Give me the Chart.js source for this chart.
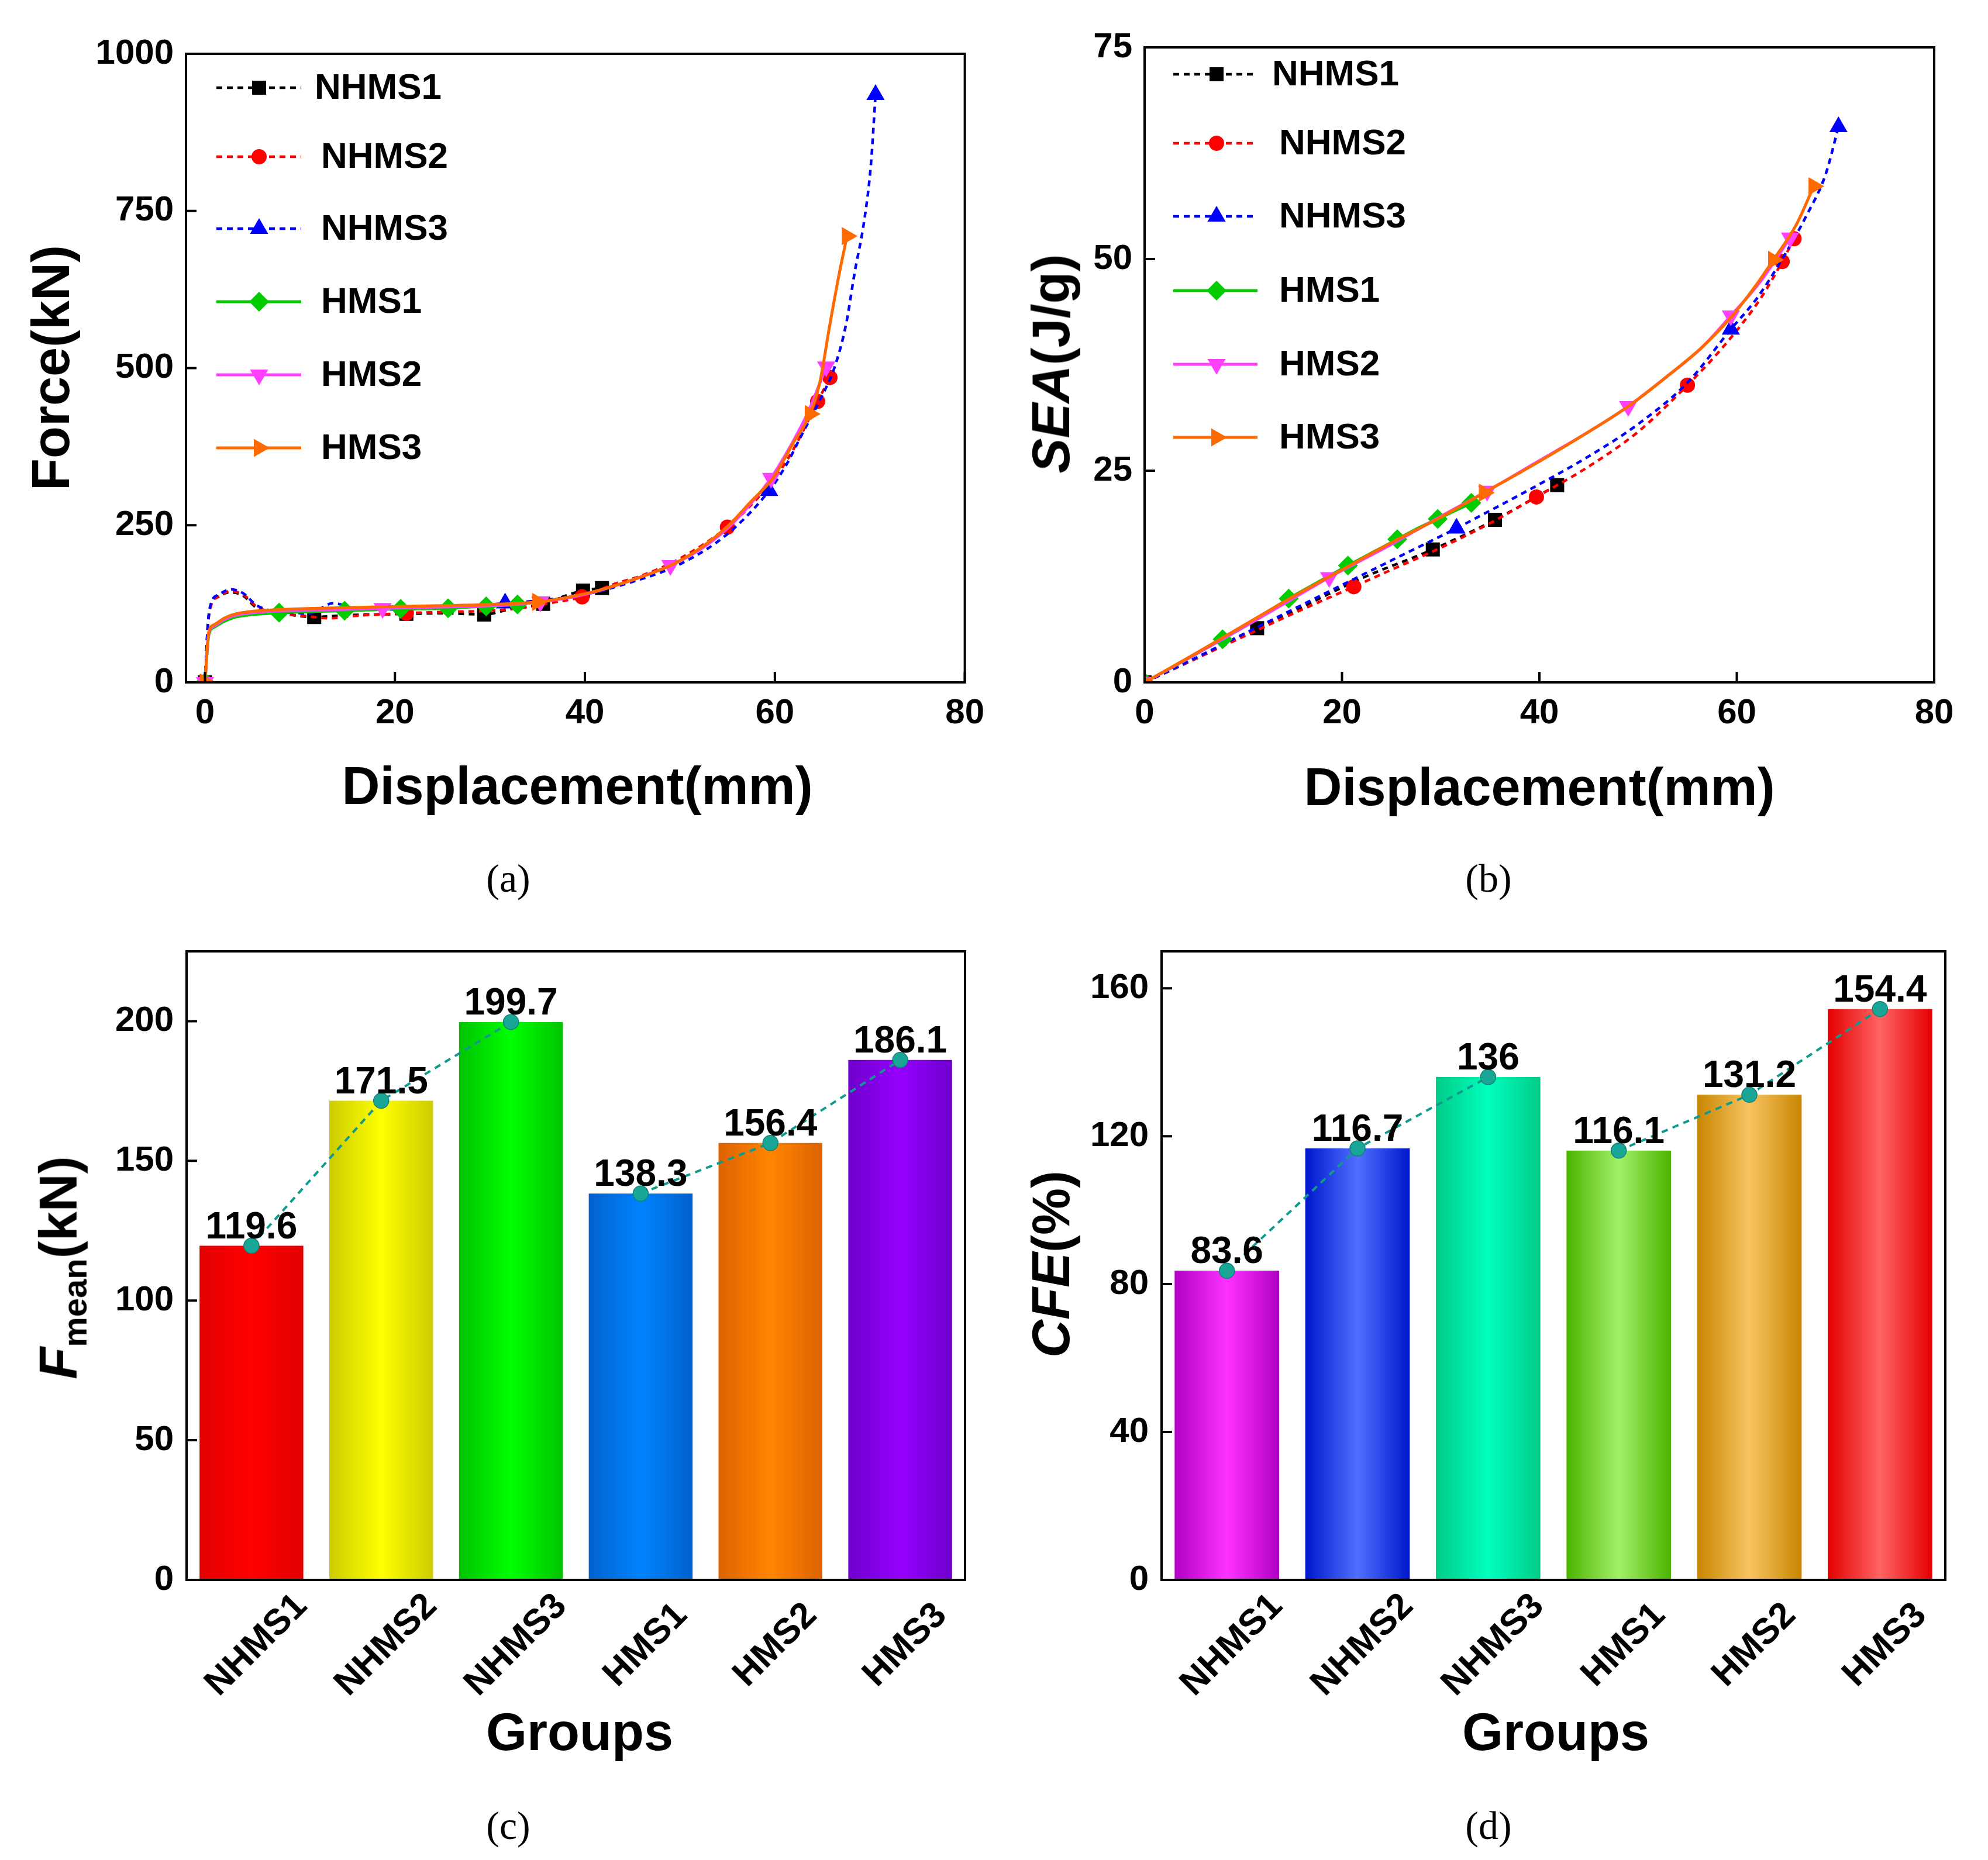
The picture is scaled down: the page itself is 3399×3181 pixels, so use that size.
<!DOCTYPE html>
<html><head><meta charset="utf-8">
<script src="https://cdn.jsdelivr.net/npm/chart.js@4.4.1/dist/chart.umd.min.js"></script>
<style>
html,body{margin:0;padding:0;background:#fff;}
body{width:3399px;height:3181px;position:relative;overflow:hidden;font-family:"Liberation Sans",Arial,sans-serif;}
canvas{position:absolute;}
.t{position:absolute;font-weight:bold;font-size:90px;line-height:1;white-space:nowrap;color:#000;transform:translate(-50%,-50%);font-family:"Liberation Sans",Arial,sans-serif;}
.r{transform:translate(-50%,-50%) rotate(-90deg);}
.cap{position:absolute;font-family:"Liberation Serif","Times New Roman",serif;font-size:68px;line-height:1;transform:translate(-50%,-50%);color:#000;}
</style></head><body>
<canvas id="ca" width="1700" height="1400" style="left:0px;top:0px"></canvas>
<canvas id="cb" width="1699" height="1400" style="left:1700px;top:0px"></canvas>
<canvas id="cc" width="1700" height="1500" style="left:0px;top:1500px"></canvas>
<canvas id="cd" width="1699" height="1500" style="left:1700px;top:1500px"></canvas>

<div class="t" style="left:987px;top:1344px">Displacement(mm)</div>
<div class="t r" style="left:87px;top:629px">Force(kN)</div>
<div class="t" style="left:2632px;top:1346px">Displacement(mm)</div>
<div class="t r" style="left:1797px;top:622px"><i>SEA</i>(J/g)</div>
<div class="t" style="left:991px;top:2962px">Groups</div>
<div class="t r" style="left:106px;top:2168px"><i>F</i><sub style="font-size:58px;vertical-align:-0.3em">mean</sub>(kN)</div>
<div class="t" style="left:2660px;top:2962px">Groups</div>
<div class="t r" style="left:1797px;top:2162px"><i>CFE</i>(%)</div>
<div class="cap" style="left:869px;top:1502px">(a)</div>
<div class="cap" style="left:2545px;top:1502px">(b)</div>
<div class="cap" style="left:869px;top:3122px">(c)</div>
<div class="cap" style="left:2545px;top:3122px">(d)</div>

<script>
// ---------------- DATA ----------------
const seriesNames = ['NHMS1','NHMS2','NHMS3','HMS1','HMS2','HMS3'];

// (a) Force vs displacement
const nhms1DispF = [0,0.3,0.6,1.5,2.8,4,5.5,8,11.5,15,18,21.2,25,29.4,32,35.6,38,39.8,41.8];
const nhms1Force = [0,90,122,138,143,138,118,110,104,107,108,109,110,108,116,125,138,146,150];
const nhms1MarkF = [0,8,11,13,15,17,18];

const nhms2DispF = [0,0.3,0.6,1.5,2.7,4,5.5,8,11,13,16,21.2,25,30,34,37,39.7,43,46,50,55,58,60,62,64.5,65.8];
const nhms2Force = [0,88,120,137,145,140,120,110,105,102,106,110,112,114,120,128,136,156,170,197,247,290,325,372,447,485];
const nhms2MarkF = [0,11,16,20,24,25];

const nhms3DispF = [0,0.3,0.6,1.5,2.8,4,5.5,8,11,13.5,16,20,24,28,31.6,35,40,45,50,55,59.4,61.2,62.8,64.7,66.3,67.5,68.4,69.4,70.1,70.6];
const nhms3Force = [0,92,124,140,148,142,122,112,110,126,117,116,118,121,126,130,140,160,188,236,305,346,393,448,502,570,652,734,822,935];
const nhms3MarkF = [0,14,20,29];

const hms1DispF = [0,0.4,1,2,3,4.5,6,7.8,10,12,14.7,17,20.6,23,25.6,28,29.6,31,32.9];
const hms1Force = [0,75,88,97,103,107,109,111,112,113,114,115,117,117,118,120,121,122,124];
const hms1MarkF = [0,7,10,12,14,16,18];

const hms2DispF = [0,0.4,1,2,3,5,8,12,18.7,25,30,35.3,40,45,49,52,55,57.5,59.6,61.5,63.5,65.4];
const hms2Force = [0,78,90,100,106,111,114,115,118,120,122,128,140,163,186,210,245,285,325,372,430,502];
const hms2MarkF = [0,8,11,14,18,21];

const hms3DispF = [0,0.4,1,2,3,5,8,12,18,25,30,35,40,45,49,52,55,57.5,59.8,61.9,63.7,64.7,65.8,66.8,67.6];
const hms3Force = [0,80,92,102,108,113,116,118,120,122,124,128,141,163,186,212,248,288,325,380,427,475,570,652,710];
const hms3MarkF = [0,11,20,24];

// (b) SEA vs displacement
const nhms1DispS = [0,5,11.4,17,22,29.2,35.5,41.8];
const nhms1Sea   = [0,2.7,6.4,9.5,12.3,15.7,19.2,23.3];
const nhms1MarkS = [0,2,5,6,7];

const nhms2DispS = [0,5,10,15,21.2,25,30,35,39.7,45,50,55,58,60.5,62.5,64.6,65.8];
const nhms2Sea   = [0,2.7,5.4,8.1,11.3,13.3,15.9,18.8,21.9,25.5,29.6,35.1,38.8,42.3,45.5,49.7,52.4];
const nhms2MarkS = [0,4,8,11,15,16];

const nhms3DispS = [0,5,10,15,20,25,31.6,36,40,45,50,55,59.4,62,64.6,67,69,70.3];
const nhms3Sea   = [0,2.8,5.7,8.6,11.5,14.4,18.2,20.9,23.4,26.7,30.5,35.4,41.7,45.3,50,55,60,65.6];
const nhms3MarkS = [0,6,12,17];

const hms1DispS = [0,3,7.9,11,14.6,17.5,20.6,23,25.6,27.5,29.7,31.5,33.1];
const hms1Sea   = [0,1.9,5.1,7.2,9.9,11.8,13.8,15.3,16.9,18.1,19.3,20.3,21.2];
const hms1MarkS = [0,2,4,6,8,10,12];

const hms2DispS = [0,5,10,14,18.7,25,30,34.7,40,45,49,53,56.5,59.4,62.5,65.4];
const hms2Sea   = [0,3.2,6.5,9.2,12.4,16.3,19.6,22.6,26.2,29.6,32.6,36.2,39.6,43.3,47.5,52.5];
const hms2MarkS = [0,4,7,10,13,15];

const hms3DispS = [0,5,10,15,20,25,30,34.4,40,45,49,53,56.5,59.4,62,63.7,66,67.8];
const hms3Sea   = [0,3.3,6.7,10.1,13.3,16.5,19.5,22.4,26.1,29.6,32.6,36.2,39.6,43.1,47,49.9,54,58.6];
const hms3MarkS = [0,7,15,17];

// (c), (d) bars
const groups = ['NHMS1','NHMS2','NHMS3','HMS1','HMS2','HMS3'];
const fmeanValues = [119.6,171.5,199.7,138.3,156.4,186.1];
const cfeValues = [83.6,116.7,136,116.1,131.2,154.4];

// tick labels
const dispTicks = [0,20,40,60,80];
const forceTicks = [0,250,500,750,1000];
const seaTicks = [0,25,50,75];
const fmeanTicks = [0,50,100,150,200];
const cfeTicks = [0,40,80,120,160];

// ---------------- STYLE ----------------
const FONT = '"Liberation Sans", Arial, sans-serif';
Chart.defaults.font.family = FONT;
Chart.defaults.color = '#000';

const seriesStyle = [
  {color:'#000000', dash:[10,8], point:'rect',     rot:0,   r:17},
  {color:'#ff0000', dash:[10,8], point:'circle',   rot:0,   r:13},
  {color:'#0000ff', dash:[10,8], point:'triangle', rot:0,   r:18},
  {color:'#00cc00', dash:[],     point:'rectRot',  rot:0,   r:17},
  {color:'#ff40ff', dash:[],     point:'triangle', rot:180, r:18},
  {color:'#ff6a00', dash:[],     point:'triangle', rot:90,  r:18}
];
const fmeanColors = [['#e20000','#ff0000'],['#cccc00','#ffff00'],['#00c400','#00ff00'],['#0062cc','#0082ff'],['#de6200','#ff8600'],['#6e00cc','#9600ff']];
const cfeColors = [['#b000c4','#ff32ff'],['#0016cc','#5070ff'],['#00cc88','#00ffbe'],['#4cb400','#a2f068'],['#c88600','#f8c462'],['#e40000','#ff6464']];
const TEAL = '#0f9a8e';

function lineDatasets(xs, ys, marks){
  return seriesNames.map((name,i)=>{
    const s = seriesStyle[i];
    return {
      label:name,
      data: xs[i].map((x,j)=>({x:x, y:ys[i][j]})),
      borderColor:s.color, backgroundColor:s.color,
      borderWidth: s.dash.length ? 4.5 : 5,
      borderDash: s.dash,
      pointStyle: s.point, pointRotation: s.rot,
      pointRadius: ctx => marks[i].includes(ctx.dataIndex) ? s.r : 0,
      pointHoverRadius: 0,
      pointBorderWidth: 0,
      pointBackgroundColor: s.color,
      cubicInterpolationMode:'monotone',
      order: 6 - i
    };
  });
}

// frame + inward ticks
const framePlugin = {
  id:'frame',
  afterDraw(chart){
    const a = chart.chartArea, ctx = chart.ctx;
    ctx.save();
    ctx.strokeStyle = '#000'; ctx.lineWidth = 4; ctx.setLineDash([]);
    const xs = chart.scales.x, ys = chart.scales.y;
    ctx.beginPath();
    if (xs.type === 'linear') {
      xs.ticks.forEach(t=>{ const p = xs.getPixelForValue(t.value); ctx.moveTo(p, a.bottom); ctx.lineTo(p, a.bottom-18); });
    }
    ys.ticks.forEach(t=>{ const p = ys.getPixelForValue(t.value); ctx.moveTo(a.left, p); ctx.lineTo(a.left+18, p); });
    ctx.stroke();
    ctx.strokeRect(a.left, a.top, a.right-a.left, a.bottom-a.top);
    ctx.restore();
  }
};

// in-plot legend
const legendPlugin = {
  id:'inLegend',
  afterDraw(chart, args, o){
    if (!o || !o.rows) return;
    const ctx = chart.ctx;
    chart.data.datasets.forEach((ds,i)=>{
      const y = o.rows[i];
      const s = seriesStyle[i];
      ctx.save();
      ctx.strokeStyle = ds.borderColor; ctx.lineWidth = ds.borderWidth;
      ctx.setLineDash(ds.borderDash || []);
      ctx.beginPath(); ctx.moveTo(o.x0, y); ctx.lineTo(o.x1, y); ctx.stroke();
      ctx.setLineDash([]);
      ctx.fillStyle = ds.borderColor; ctx.strokeStyle = ds.borderColor;
      Chart.helpers.drawPoint(ctx, {pointStyle:s.point, rotation:s.rot, radius:s.r, borderWidth:0}, o.markX, y);
      ctx.fillStyle = '#000';
      ctx.font = 'bold 62px ' + FONT;
      ctx.textAlign = 'left'; ctx.textBaseline = 'middle';
      ctx.fillText(ds.label, o.textX[i], y + 2);
      ctx.restore();
    });
  }
};

// bar value labels + rotated category labels
const barTextPlugin = {
  id:'barText',
  afterDatasetsDraw(chart, args, o){
    if (!o || !o.on) return;
    const ctx = chart.ctx;
    const idx = chart.data.datasets.findIndex(d=>d.type==='bar');
    const meta = chart.getDatasetMeta(idx);
    const vals = chart.data.datasets[idx].data;
    ctx.save();
    ctx.fillStyle = '#000';
    ctx.font = 'bold 64px ' + FONT;
    ctx.textAlign = 'center'; ctx.textBaseline = 'alphabetic';
    meta.data.forEach((el,i)=>{ ctx.fillText(String(vals[i]), el.x, el.y - 13); });
    const xs = chart.scales.x, a = chart.chartArea;
    ctx.font = 'bold 62px ' + FONT;
    ctx.textBaseline = 'middle';
    chart.data.labels.forEach((lab,i)=>{
      const px = xs.getPixelForValue(i);
      ctx.save();
      ctx.translate(px + 9, a.bottom + 112);
      ctx.rotate(-Math.PI/4);
      ctx.fillText(lab, 0, 0);
      ctx.restore();
    });
    ctx.restore();
  }
};

function tickFont(){ return {family:FONT, size:60, weight:'bold'}; }

function linAxis(min, max, tickArr, fit, pad){
  return {
    type:'linear', min:min, max:max,
    afterBuildTicks: s => { s.ticks = tickArr.map(v=>({value:v})); },
    afterFit: fit,
    grid:{display:false, drawTicks:false},
    border:{display:false},
    ticks:{font:tickFont(), color:'#000', padding:pad, maxRotation:0, minRotation:0, autoSkip:false,
           callback: v => String(v)}
  };
}

function makeLine(id, xs, ys, marks, xr, yr, yTicks, box, legend){
  new Chart(document.getElementById(id), {
    type:'line',
    data:{ datasets: lineDatasets(xs, ys, marks) },
    options:{
      responsive:false, maintainAspectRatio:false, animation:false, devicePixelRatio:1,
      layout:{ padding:{ left:0, top:box.t, right:box.W - box.r, bottom:0 } },
      plugins:{ legend:{display:false}, tooltip:{enabled:false}, inLegend:legend },
      scales:{
        x: linAxis(xr[0], xr[1], dispTicks, s=>{ s.height = box.H - box.b; }, 17),
        y: linAxis(yr[0], yr[1], yTicks, s=>{ s.width = box.l; }, 21)
      }
    },
    plugins:[framePlugin, legendPlugin]
  });
}

function barGradient(colors){
  return ctx => {
    const chart = ctx.chart, area = chart.chartArea;
    const c = colors[ctx.dataIndex || 0];
    if (!area || ctx.type !== 'data') return c[1];
    const cx = chart.scales.x.getPixelForValue(ctx.dataIndex);
    const w = (area.right - area.left) / chart.data.labels.length * 0.8;
    const g = chart.ctx.createLinearGradient(cx - w/2, 0, cx + w/2, 0);
    g.addColorStop(0, c[0]); g.addColorStop(0.5, c[1]); g.addColorStop(1, c[0]);
    return g;
  };
}

function makeBar(id, values, colors, yMax, yTicks, box){
  new Chart(document.getElementById(id), {
    type:'bar',
    data:{
      labels: groups,
      datasets:[
        { type:'line', data: values, borderColor:TEAL, borderWidth:4, borderDash:[11,9],
          segment:{ borderColor: c => c.p0DataIndex === 2 ? 'rgba(0,0,0,0)' : TEAL },
          pointStyle:'circle', pointRadius:13, pointHoverRadius:13,
          pointBackgroundColor:'#1aa696', pointBorderColor:'#0c8478', pointBorderWidth:1.5,
          tension:0, order:0 },
        { type:'bar', data: values, backgroundColor: barGradient(colors), borderWidth:0,
          barPercentage:0.8, categoryPercentage:1.0, order:1 }
      ]
    },
    options:{
      responsive:false, maintainAspectRatio:false, animation:false, devicePixelRatio:1,
      layout:{ padding:{ left:0, top:box.t, right:box.W - box.r, bottom:0 } },
      plugins:{ legend:{display:false}, tooltip:{enabled:false}, barText:{on:true} },
      scales:{
        x:{ type:'category', offset:true, grid:{display:false, drawTicks:false}, border:{display:false},
            ticks:{display:false}, afterFit: s=>{ s.height = box.H - box.b; } },
        y: linAxis(0, yMax, yTicks, s=>{ s.width = box.l; }, 22)
      }
    },
    plugins:[framePlugin, barTextPlugin]
  });
}

makeLine('ca',
  [nhms1DispF,nhms2DispF,nhms3DispF,hms1DispF,hms2DispF,hms3DispF],
  [nhms1Force,nhms2Force,nhms3Force,hms1Force,hms2Force,hms3Force],
  [nhms1MarkF,nhms2MarkF,nhms3MarkF,hms1MarkF,hms2MarkF,hms3MarkF],
  [-2,80],[0,1000], forceTicks,
  {W:1700,H:1400,l:318,t:92,r:1654,b:1167},
  {x0:370, x1:515, markX:443, textX:[538,549,549,549,549,549], rows:[150,268,391,516,641,766]});

makeLine('cb',
  [nhms1DispS,nhms2DispS,nhms3DispS,hms1DispS,hms2DispS,hms3DispS],
  [nhms1Sea,nhms2Sea,nhms3Sea,hms1Sea,hms2Sea,hms3Sea],
  [nhms1MarkS,nhms2MarkS,nhms3MarkS,hms1MarkS,hms2MarkS,hms3MarkS],
  [0,80],[0,75], seaTicks,
  {W:1699,H:1400,l:257,t:81,r:1607,b:1167},
  {x0:306, x1:450, markX:380, textX:[475,487,487,487,487,487], rows:[127,245,370,497,623,748]});

makeBar('cc', fmeanValues, fmeanColors, 225, fmeanTicks, {W:1700,H:1500,l:319,t:127,r:1650,b:1202});
makeBar('cd', cfeValues, cfeColors, 170, cfeTicks, {W:1699,H:1500,l:286,t:127,r:1626,b:1202});
</script>
</body></html>
